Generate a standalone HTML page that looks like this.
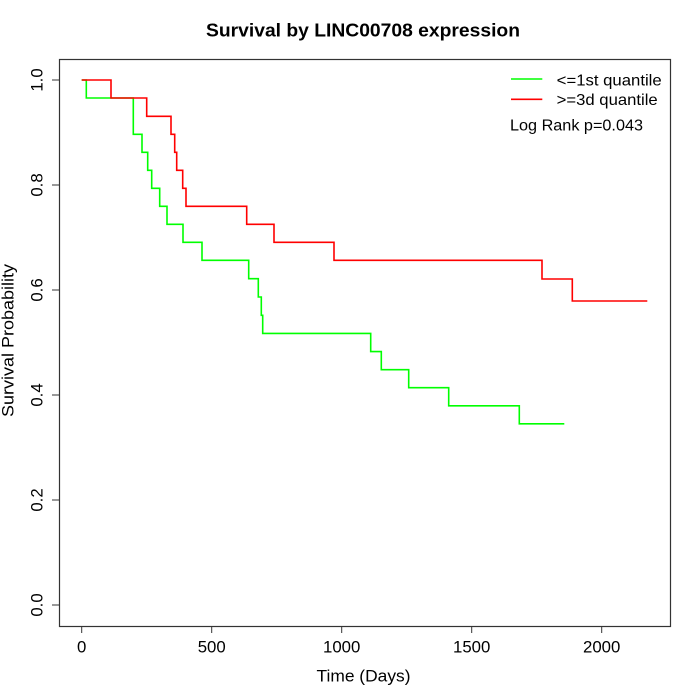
<!DOCTYPE html>
<html>
<head>
<meta charset="utf-8">
<style>
  html, body { margin: 0; padding: 0; background: #fff; }
  svg { display: block; }
  text { font-family: "Liberation Sans", Arial, sans-serif; fill: #000; }
</style>
</head>
<body>
<svg width="700" height="700" viewBox="0 0 700 700" xmlns="http://www.w3.org/2000/svg">
  <rect x="0" y="0" width="700" height="700" fill="#fff"/>

  <!-- Title -->
  <text x="363" y="36.7" font-size="18.5" font-weight="bold" text-anchor="middle" textLength="314" lengthAdjust="spacingAndGlyphs">Survival by LINC00708 expression</text>

  <!-- Plot box -->
  <rect x="59.5" y="59.5" width="611" height="567" fill="none" stroke="#333" stroke-width="1.2"/>

  <!-- X ticks -->
  <g stroke="#333" stroke-width="1">
    <line x1="81.7" y1="626.5" x2="81.7" y2="633"/>
    <line x1="211.7" y1="626.5" x2="211.7" y2="633"/>
    <line x1="341.7" y1="626.5" x2="341.7" y2="633"/>
    <line x1="471.7" y1="626.5" x2="471.7" y2="633"/>
    <line x1="601.7" y1="626.5" x2="601.7" y2="633"/>
  </g>
  <g font-size="16.8" text-anchor="middle">
    <text x="81.7" y="652.3">0</text>
    <text x="211.7" y="652.3">500</text>
    <text x="341.7" y="652.3">1000</text>
    <text x="471.7" y="652.3">1500</text>
    <text x="601.7" y="652.3">2000</text>
  </g>
  <text x="363.5" y="681.5" font-size="17" text-anchor="middle" textLength="94" lengthAdjust="spacingAndGlyphs">Time (Days)</text>

  <!-- Y ticks -->
  <g stroke="#333" stroke-width="1">
    <line x1="52" y1="605" x2="59.5" y2="605"/>
    <line x1="52" y1="500" x2="59.5" y2="500"/>
    <line x1="52" y1="395" x2="59.5" y2="395"/>
    <line x1="52" y1="290" x2="59.5" y2="290"/>
    <line x1="52" y1="185" x2="59.5" y2="185"/>
    <line x1="52" y1="80" x2="59.5" y2="80"/>
  </g>
  <g font-size="16.8" text-anchor="middle">
    <text transform="translate(42.5,605) rotate(-90)">0.0</text>
    <text transform="translate(42.5,500) rotate(-90)">0.2</text>
    <text transform="translate(42.5,395) rotate(-90)">0.4</text>
    <text transform="translate(42.5,290) rotate(-90)">0.6</text>
    <text transform="translate(42.5,185) rotate(-90)">0.8</text>
    <text transform="translate(42.5,80) rotate(-90)">1.0</text>
  </g>
  <text transform="translate(13.5,340.5) rotate(-90)" font-size="17" text-anchor="middle" textLength="153" lengthAdjust="spacingAndGlyphs">Survival Probability</text>

  <!-- Green curve -->
  <path d="M81.7,80 H86.3 V98 H133.3 V134.3 H142 V152.3 H147.7 V170.3 H151.7 V188.3 H159.7 V206.3 H167 V224.3 H183 V242.3 H202 V260.3 H248.7 V278.7 H258.3 V297 H261.3 V315.3 H262.7 V333.4 H370.7 V351.6 H381.3 V369.7 H408.7 V387.7 H448.7 V405.8 H519.3 V423.8 H564.3"
        fill="none" stroke="#00ff00" stroke-width="1.6" stroke-linejoin="miter"/>

  <!-- Red curve -->
  <path d="M81.7,80 H111 V98 H146.7 V116.3 H171 V134.3 H174.7 V152.3 H176.7 V170.3 H182.7 V188.3 H186 V206.3 H246.7 V224.3 H274 V242.3 H334 V260.3 H542 V279 H572.3 V301 H647.3"
        fill="none" stroke="#ff0000" stroke-width="1.6" stroke-linejoin="miter"/>

  <!-- Legend -->
  <line x1="511" y1="79" x2="542.3" y2="79" stroke="#00ff00" stroke-width="1.6"/>
  <line x1="511" y1="99.3" x2="542.3" y2="99.3" stroke="#ff0000" stroke-width="1.6"/>
  <g font-size="16">
    <text x="556.7" y="85.5" textLength="105" lengthAdjust="spacingAndGlyphs">&lt;=1st quantile</text>
    <text x="556.7" y="105" textLength="101" lengthAdjust="spacingAndGlyphs">&gt;=3d quantile</text>
    <text x="510" y="130.7" textLength="133" lengthAdjust="spacingAndGlyphs">Log Rank p=0.043</text>
  </g>
</svg>
</body>
</html>
